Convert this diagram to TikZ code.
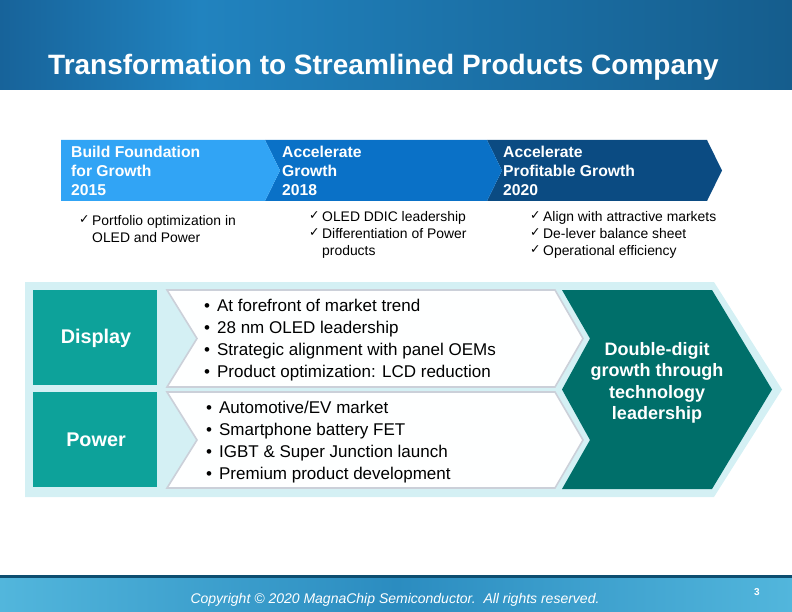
\documentclass[tikz,border=0pt]{standalone}
\usepackage{fontspec}
\setmainfont{Liberation Sans}
\newfontfamily\checkfont{DejaVu Sans}
\definecolor{headerdark}{HTML}{17639A}
\definecolor{headerlight}{HTML}{2183BF}
\definecolor{headerright}{HTML}{155D8D}
\definecolor{footerlight}{HTML}{52B6DC}
\definecolor{footermid}{HTML}{2B8CC0}
\definecolor{footerline}{HTML}{0D4E70}
\definecolor{chipsky}{HTML}{31A4F5}
\definecolor{chipblue}{HTML}{0A71C7}
\definecolor{chipnavy}{HTML}{0B4B82}
\definecolor{chipteal}{HTML}{0DA29A}
\definecolor{chipdeep}{HTML}{006F6A}
\definecolor{panelcyan}{HTML}{D4F0F4}
\definecolor{framegray}{HTML}{CBD0D9}
\tikzset{
    stagetext/.style={
        anchor=north west,
        inner sep=0pt,
        text=white,
        align=left,
        font=\fontsize{15.7}{19}\selectfont\bfseries
    },
    checkmark/.style={
        anchor=north west,
        inner sep=0pt,
        font=\fontsize{12.5}{17}\selectfont\checkfont
    },
    checktext/.style={
        anchor=north west,
        inner sep=0pt,
        align=left,
        font=\fontsize{13.9}{17}\selectfont
    },
    whitearrow/.style={
        draw=framegray,
        fill=white!97!panelcyan,
        line width=1.6pt,
        line join=miter
    },
    segmentlabel/.style={
        text=white,
        font=\fontsize{19.8}{22}\selectfont\bfseries
    },
    bulletitem/.style={
        anchor=base west,
        inner sep=0pt,
        font=\fontsize{17}{19}\selectfont
    }
}

\begin{document}
\begin{tikzpicture}[x=1pt,y=-1pt]
    \useasboundingbox (0,0) rectangle (792,612);

    % header band
    \shade[left color=headerdark,right color=headerlight]
        (0,0) rectangle (200,90);
    \shade[left color=headerlight,right color=headerright]
        (200,0) rectangle (792,90);
    \node[anchor=base west,inner sep=0pt,text=white,
        font=\fontsize{28}{30}\selectfont\bfseries]
        (titleText) at (48,75) {Transformation to Streamlined Products Company};

    % timeline chevrons
    \fill[chipnavy] (487,140) -- (707,140) -- (722,170.5) -- (707,201)
        -- (487,201) -- (502,170.5) -- cycle;
    \fill[chipblue] (265,140) -- (487,140) -- (502,170.5) -- (487,201)
        -- (265,201) -- (280,170.5) -- cycle;
    \fill[chipsky] (61,140) -- (265,140) -- (280,170.5) -- (265,201)
        -- (61,201) -- cycle;

    \node[stagetext] (stageFoundation) at (71,146)
        {Build Foundation\\for Growth\\2015};
    \node[stagetext] (stageGrowth) at (282,146)
        {Accelerate\\Growth\\2018};
    \node[stagetext] (stageProfit) at (503,146)
        {Accelerate\\Profitable Growth\\2020};

    \node[checkmark] (checkFoundation) at (79,215) {✓};
    \node[checktext] (textFoundation) at (92,215)
        {Portfolio optimization in\\OLED and Power};

    \node[checkmark] (checkGrowthA) at (309,211) {✓};
    \node[checkmark] (checkGrowthB) at (309,228) {✓};
    \node[checktext] (textGrowth) at (322,211)
        {OLED DDIC leadership\\Differentiation of Power\\products};

    \node[checkmark] (checkProfitA) at (530,211) {✓};
    \node[checkmark] (checkProfitB) at (530,228) {✓};
    \node[checkmark] (checkProfitC) at (530,245) {✓};
    \node[checktext] (textProfit) at (543,211)
        {Align with attractive markets\\De-lever balance sheet\\Operational efficiency};

    % product panel
    \fill[panelcyan] (25,282) -- (714,282) -- (782,389.5) -- (714,497)
        -- (25,497) -- cycle;

    \fill[chipteal] (33,290) rectangle (157,385);
    \fill[chipteal] (33,392) rectangle (157,487);
    \node[segmentlabel] (displayLabel) at (96,338) {Display};
    \node[segmentlabel] (powerLabel) at (96,440) {Power};

    \filldraw[whitearrow] (167,290) -- (555,290) -- (583,338.5) -- (555,387)
        -- (167,387) -- (197,338.5) -- cycle;
    \filldraw[whitearrow] (167,392) -- (555,392) -- (583,440) -- (555,488)
        -- (167,488) -- (197,440) -- cycle;

    \fill[chipdeep] (562,290) -- (712,290) -- (772,389.5) -- (712,489)
        -- (562,489) -- (590,440) -- (562,389.5) -- (590,338.5) -- cycle;
    \node[text=white,align=center,
        font=\fontsize{18}{21.5}\selectfont\bfseries]
        (outcomeText) at (657,383)
        {Double-digit\\growth through\\technology\\leadership};

    \node[bulletitem] (displayBulletA) at (204,311) {•\hspace{7pt}At forefront of market trend};
    \node[bulletitem] (displayBulletB) at (204,333) {•\hspace{7pt}28 nm OLED leadership};
    \node[bulletitem] (displayBulletC) at (204,355) {•\hspace{7pt}Strategic alignment with panel OEMs};
    \node[bulletitem] (displayBulletD) at (204,377) {•\hspace{7pt}Product optimization: LCD reduction};

    \node[bulletitem] (powerBulletA) at (206,413) {•\hspace{7pt}Automotive/EV market};
    \node[bulletitem] (powerBulletB) at (206,435) {•\hspace{7pt}Smartphone battery FET};
    \node[bulletitem] (powerBulletC) at (206,457) {•\hspace{7pt}IGBT \& Super Junction launch};
    \node[bulletitem] (powerBulletD) at (206,479) {•\hspace{7pt}Premium product development};

    % footer band
    \shade[left color=footerlight,right color=footermid]
        (0,576) rectangle (396,612);
    \shade[left color=footermid,right color=footerlight]
        (396,576) rectangle (792,612);
    \fill[footerline] (0,575) rectangle (792,577.5);
    \node[text=white,font=\fontsize{14}{16}\selectfont\itshape]
        (copyrightText) at (395,600)
        {Copyright © 2020 MagnaChip Semiconductor.\ \ All rights reserved.};
    \node[text=white,font=\fontsize{10}{12}\selectfont\bfseries]
        (pageNumber) at (757,592) {3};
\end{tikzpicture}
\end{document}
